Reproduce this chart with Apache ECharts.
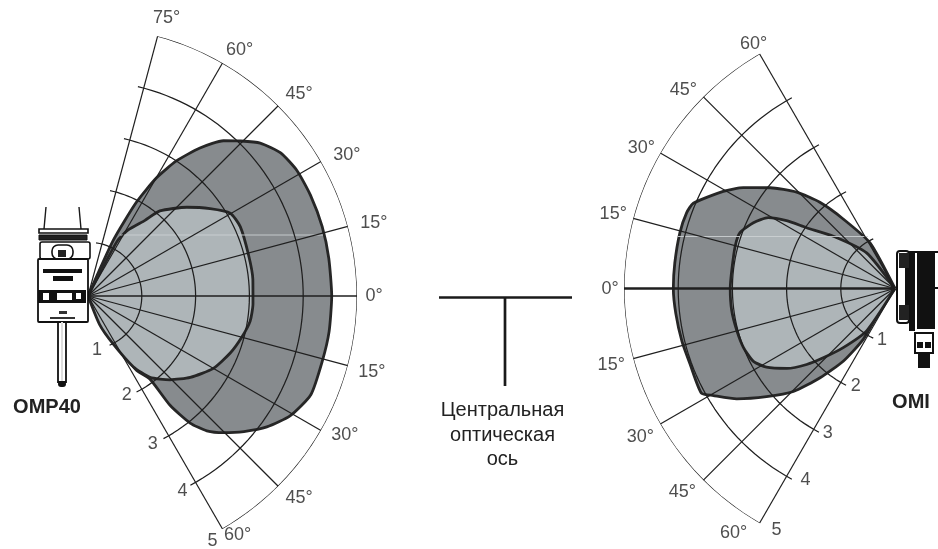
<!DOCTYPE html>
<html><head><meta charset="utf-8">
<style>html,body{margin:0;padding:0;background:#fff}#c{width:938px;height:549px}</style>
<script src="https://cdn.jsdelivr.net/npm/echarts@6/dist/echarts.min.js"></script>
</head><body><div id="c"></div>
<script>
// Values: [range, angle in degrees]
const omp40Outer = [[0,66],[1.13,65.6],[1.96,62.7],[2.54,59.9],[3.0,56.8],[3.45,52.9],[3.83,48.9],[4.04,45.5],[4.28,41.6],[4.46,36.6],[4.53,31],[4.54,24.4],[4.54,16.5],[4.53,8.9],[4.53,0],[4.53,-8.4],[4.52,-15.6],[4.53,-23.9],[4.37,-30.6],[4.12,-36.2],[3.84,-41],[3.58,-45.2],[3.34,-48.6],[3.03,-51.2],[2.54,-53.1],[1.93,-53.3],[1.65,-56.9],[1.24,-58.2],[0.69,-60],[0,-60]];
const omp40Inner = [[0,65],[1.15,62],[1.43,58.8],[1.76,53],[2.07,49.8],[2.47,41.9],[2.79,35.6],[3.06,30.2],[3.11,24.5],[3.08,14.4],[3.08,5.8],[3.07,-2.7],[3.05,-8.8],[2.96,-14.9],[2.85,-21.7],[2.69,-30],[2.43,-38.5],[2.18,-45.6],[1.90,-52.7],[1.56,-57.4],[1.0,-62.4],[0.58,-67.8],[0,-68]];
const omiOuter = [[0,61],[0.96,61.3],[1.60,53.3],[2.11,48.9],[2.54,44.4],[2.96,38.9],[3.36,33.6],[3.64,29.5],[4.04,22.9],[4.09,20],[4.10,14.5],[4.09,6.6],[4.09,0],[4.07,-6.6],[4.05,-13.8],[4.03,-20.3],[4.06,-28.4],[3.89,-30.5],[3.56,-34.9],[3.10,-40.1],[2.67,-45.4],[2.15,-50],[1.64,-54.6],[1.10,-58],[0.49,-55.7],[0,-56]];
const omiInner = [[0,52],[0.84,51.4],[1.49,40.3],[1.98,34.5],[2.36,32],[2.68,29.2],[2.88,24.9],[3.04,19.8],[3.05,14.8],[3.03,6.5],[3.04,0],[3.04,-7.7],[3.02,-14.9],[3.0,-21.3],[2.94,-27.1],[2.78,-31.5],[2.48,-36.5],[2.15,-40.7],[1.84,-44],[1.45,-48.8],[0.94,-56.2],[0,-56]];
const rangeTicks = [1,2,3,4,5];
const omp40Angles = [75,60,45,30,15,0,-15,-30,-45,-60];
const omiAngles = [60,45,30,15,0,-15,-30,-45,-60];
const omp40Title = 'OMP40';
const omiTitle = 'OMI';
const axisCaption = ['Центральная','оптическая','ось'];

// Label nudges in px (display only)
const omp40AngleNudge = [[9,-18],[17,-13],[21,-12],[26,-6],[26,-3],[17,0],[24,6],[24,5],[21,12],[15,6]];
const omiAngleNudge = [[-6,-10],[-20,-7],[-19,-5],[-20,-4],[-14,1],[-22,6],[-20,13],[-21,12],[-26,10]];
const omp40RangeNudge = [[-18,7],[-15,6],[-16,8],[-13,9],[-10,12]];
const omiRangeNudge = [[14,5],[15,4],[14,4],[19,4],[17,7]];

const INK='#1f1f1f', DARK='#878b8e', LIGHT='#aeb5b8', FONT='"Liberation Sans",Arial,sans-serif';

function rings(polarIndex, lo, hi, unitPx){
  return rangeTicks.map(r=>{
    const over = r===5 ? 0 : 6/(r*unitPx)*57.3;
    const pts=[]; const a0=lo-over, a1=hi+over, n=Math.ceil((a1-a0)/2);
    for(let i=0;i<=n;i++) pts.push([r,a0+(a1-a0)*i/n]);
    return {type:'line',coordinateSystem:'polar',polarIndex,data:pts,symbol:'none',silent:true,z:5,
      lineStyle:{color:INK,width:r===5?1.2:1.25},clip:false,animation:false};
  });
}
function spokes(polarIndex, angles, boldZero){
  return angles.map(a=>({type:'line',coordinateSystem:'polar',polarIndex,data:[[0,a],[a===0&&!boldZero?5.05:5,a]],symbol:'none',silent:true,z:5,
    lineStyle:{color:INK,width:(a===0&&boldZero)?2.4:(a===0?1.5:1.2)},clip:false,animation:false}));
}
function shape(polarIndex,data,fill,z){
  return {type:'line',coordinateSystem:'polar',polarIndex,data,symbol:'none',smooth:0.2,z,clip:false,animation:false,silent:true,
    lineStyle:{color:'#262626',width:2.8},areaStyle:{color:fill,opacity:1}};
}
function labels(polarIndex,pts,texts,nudges,fontSize){
  return {type:'scatter',coordinateSystem:'polar',polarIndex,symbolSize:0,z:8,silent:true,animation:false,clip:false,
    data:pts.map((p,i)=>({value:p,label:{show:true,position:'inside',formatter:texts[i],offset:nudges[i],
      fontFamily:FONT,fontSize,color:'#222'}}))};
}
const polarDef=(center,radius)=>({center,radius});
const chart=echarts.init(document.getElementById('c'),null,{renderer:'canvas'});

const R=(x,y,w,h,fill,stroke,lw,r)=>({type:'rect',shape:{x,y,width:w,height:h,r:r||0},style:{fill:fill||'none',stroke:stroke||null,lineWidth:lw||0},silent:true,z:20});
const L=(x1,y1,x2,y2,lw,c,z)=>({type:'line',shape:{x1,y1,x2,y2},style:{stroke:c||'#1a1a1a',lineWidth:lw||1.5},silent:true,z:z||20});
const T=(text,x,y,size,weight)=>({type:'text',x,y,style:{text,fontFamily:FONT,fontSize:size,fontWeight:weight||'normal',fill:'#222',align:'center',verticalAlign:'middle'},silent:true,z:20});

const device=[
 // OMP40 probe
 L(46,207,44,229,1.4),L(79,207,81,229,1.4),
 R(39,229,49,4,'#fff','#111',1.6),R(39,235,48,5,'#222','#111',1),
 R(40,242,50,17,'#fff','#111',1.6,2),R(52,245,21,14,'#fff','#111',1.6,6),R(58,250,8,7,'#222'),
 R(38,259,50,63,'#fff','#111',1.8,1),
 R(43,269,39,4,'#111'),R(53,276,20,5,'#111'),
 R(38,290,48,13,'#111'),R(57,293,15,7,'#fff'),R(43,293,6,7,'#fff'),R(76,293,5,6,'#fff'),
 R(59,311,8,3,'#333'),R(50,317,25,2,'#333'),
 R(58,322,8,60,'#fff','#111',1.8),R(61,322,2,60,'#ddd'),R(58,381,8,6,'#111',null,0,3),
 // OMI receiver
 R(897,251,12,72,'#fff','#111',2,3),R(899,253,10,15,'#222'),R(899,305,10,15,'#222'),R(905,268,4,37,'#111'),
 R(909,251,29,2,'#111'),R(909,251,6,80,'#111'),R(917,251,18,78,'#111'),R(935,287,3,2,'#111'),
 R(915,333,18,20,'#fff','#111',2),R(917,342,6,6,'#111'),R(925,342,6,6,'#111'),R(918,353,12,15,'#111'),
 // Faint scan streak across both plots
 L(120,235,323,235,0.9,'#ccd0d2',3),L(678,236.5,868,236.5,0.9,'#ccd0d2',3),
 // Central optical axis key
 L(439,297.5,572,297.5,2.7),L(505,297,505,386,2.7),
 T(omp40Title,47,407,20,'bold'),T(omiTitle,911,402,20,'bold'),
 T(axisCaption[0],502.5,410,20),T(axisCaption[1],502.5,435,20),T(axisCaption[2],502.5,459,20),
];

chart.setOption({
  animation:false,
  backgroundColor:'#fff',
  polar:[polarDef([88,296],269),polarDef([895,288.5],271)],
  angleAxis:[
    {polarIndex:0,type:'value',min:-180,max:180,startAngle:180,clockwise:false,show:false},
    {polarIndex:1,type:'value',min:-180,max:180,startAngle:0,clockwise:true,show:false}
  ],
  radiusAxis:[
    {polarIndex:0,type:'value',min:0,max:5,show:false},
    {polarIndex:1,type:'value',min:0,max:5,show:false}
  ],
  graphic:{elements:device},
  series:[
    shape(0,omp40Outer,DARK,1),shape(0,omp40Inner,LIGHT,2),
    shape(1,omiOuter,DARK,1),shape(1,omiInner,LIGHT,2),
    ...rings(0,-60,75,54),...spokes(0,omp40Angles,false),
    ...rings(1,-60,60,54.2),...spokes(1,omiAngles,true),
    labels(0,omp40Angles.map(a=>[5,a]),omp40Angles.map(a=>Math.abs(a)+'°'),omp40AngleNudge,18),
    labels(1,omiAngles.map(a=>[5,a]),omiAngles.map(a=>Math.abs(a)+'°'),omiAngleNudge,18),
    labels(0,rangeTicks.map(r=>[r,-60]),rangeTicks.map(String),omp40RangeNudge,18),
    labels(1,rangeTicks.map(r=>[r,-60]),rangeTicks.map(String),omiRangeNudge,18),
  ]
});
</script></body></html>
